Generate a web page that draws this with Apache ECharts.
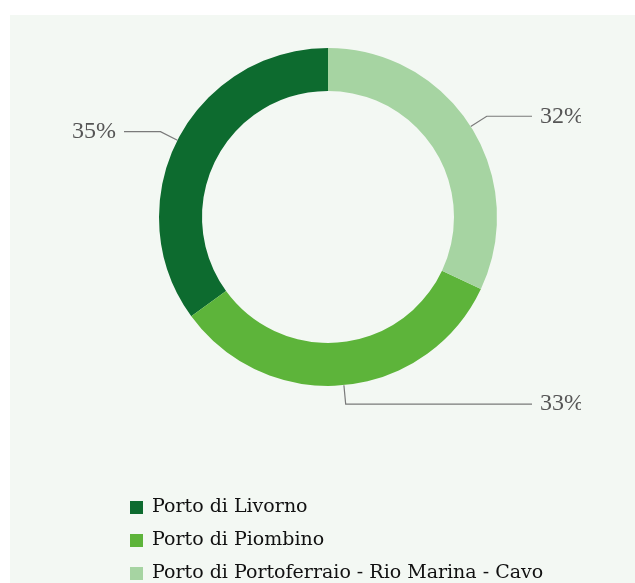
<!DOCTYPE html>
<html>
<head>
<meta charset="utf-8">
<script src="https://cdn.jsdelivr.net/npm/echarts@6/dist/echarts.min.js"></script>
<style>
  html, body { margin: 0; padding: 0; background: #ffffff; }
  body { width: 635px; height: 583px; position: relative; overflow: hidden; }
  #panel { position: absolute; left: 10px; top: 15px; right: 0; bottom: 0; background: #f3f8f3; }
  #clip { position: absolute; left: 0; top: 0; width: 581px; height: 583px; overflow: hidden; }
  #chart { position: absolute; left: 0; top: 0; width: 656px; height: 700px; }
</style>
</head>
<body>
<div id="panel"></div>
<div id="clip"><div id="chart"></div></div>
<script>
// Share of passengers by port
const ports = ['Porto di Livorno', 'Porto di Piombino', 'Porto di Portoferraio - Rio Marina - Cavo'];
const shares = [35, 33, 32];
const colors = ['#0d6b2f', '#5db43a', '#a6d4a2'];

const chart = echarts.init(document.getElementById('chart'), null, { renderer: 'canvas' });

chart.setOption({
  animation: false,
  color: colors,
  legend: {
    orient: 'vertical',
    left: 125,
    top: 493,
    icon: 'rect',
    itemWidth: 13,
    itemHeight: 13,
    itemGap: 14,
    selectedMode: false,
    data: ports,
    textStyle: {
      fontFamily: 'DejaVu Serif',
      fontSize: 19,
      color: '#111111',
      padding: [0, 0, 0, 4]
    }
  },
  series: [{
    type: 'pie',
    center: [328, 217],
    radius: [126, 169],
    height: 583,
    startAngle: 90,
    clockwise: false,
    avoidLabelOverlap: true,
    emphasis: { disabled: true },
    label: {
      show: true,
      position: 'outside',
      alignTo: 'edge',
      edgeDistance: 72,
      distanceToLabelLine: 8,
      formatter: '{c}%',
      fontFamily: 'Liberation Serif',
      fontSize: 24,
      color: '#555555',
      padding: [6, 0, 0, 0]
    },
    labelLine: {
      show: true,
      length: 19,
      length2: 20,
      lineStyle: { color: '#7a7a7a', width: 1.2 }
    },
    data: ports.map((name, i) => ({ name: name, value: shares[i] }))
  }]
});
</script>
</body>
</html>
